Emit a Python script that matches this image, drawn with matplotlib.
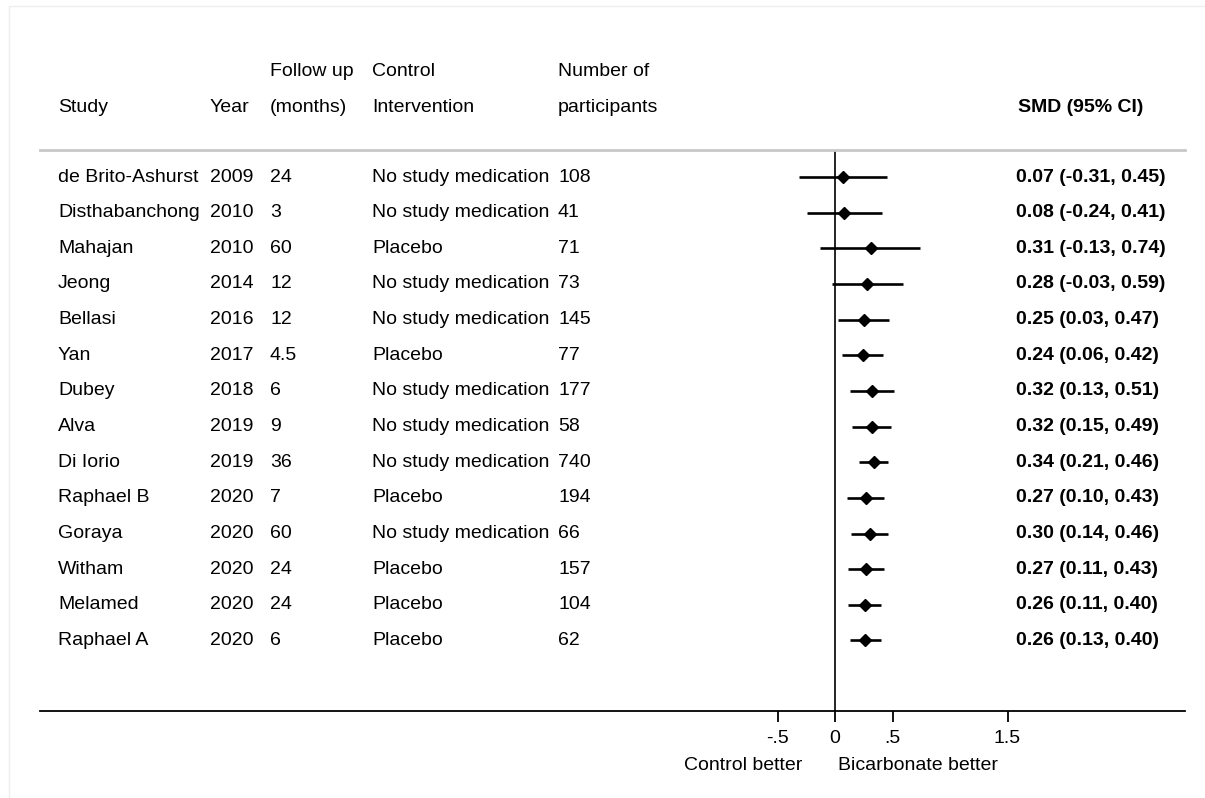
import matplotlib.pyplot as plt
import matplotlib.transforms as mtransforms
from matplotlib.lines import Line2D

plt.rcParams['font.family'] = ['Liberation Sans', 'DejaVu Sans']

studies = ['de Brito-Ashurst', 'Disthabanchong', 'Mahajan', 'Jeong', 'Bellasi', 'Yan',
           'Dubey', 'Alva', 'Di Iorio', 'Raphael B', 'Goraya', 'Witham', 'Melamed',
           'Raphael A']
years = [2009, 2010, 2010, 2014, 2016, 2017, 2018, 2019, 2019, 2020, 2020, 2020, 2020, 2020]
follow_up = ['24', '3', '60', '12', '12', '4.5', '6', '9', '36', '7', '60', '24', '24', '6']
control = ['No study medication', 'No study medication', 'Placebo', 'No study medication',
           'No study medication', 'Placebo', 'No study medication', 'No study medication',
           'No study medication', 'Placebo', 'No study medication', 'Placebo', 'Placebo',
           'Placebo']
n_participants = [108, 41, 71, 73, 145, 77, 177, 58, 740, 194, 66, 157, 104, 62]
smd = [0.07, 0.08, 0.31, 0.28, 0.25, 0.24, 0.32, 0.32, 0.34, 0.27, 0.30, 0.27, 0.26, 0.26]
ci_low = [-0.31, -0.24, -0.13, -0.03, 0.03, 0.06, 0.13, 0.15, 0.21, 0.10, 0.14, 0.11, 0.11, 0.13]
ci_high = [0.45, 0.41, 0.74, 0.59, 0.47, 0.42, 0.51, 0.49, 0.46, 0.43, 0.46, 0.43, 0.40, 0.40]

xticks = [-0.5, 0, 0.5, 1.5]
xticklabels = ['-.5', '0', '.5', '1.5']

W, H = 1205, 798
fig = plt.figure(figsize=(W / 100, H / 100), dpi=100)


def fx(px):
    return px / W


def fy(py):
    return 1 - py / H


# plotting area: axis line from x=40 to 1185 px, separator at 150, axis at 711
top_px, axis_px, row0_px, row_step = 150, 711, 177, 35.65
ax = fig.add_axes([fx(40), fy(axis_px), fx(1185 - 40), (axis_px - top_px) / H])
zero_px, unit_px = 835, 115
ax.set_xlim((40 - zero_px) / unit_px, (1185 - zero_px) / unit_px)
ax.set_ylim((axis_px - row0_px) / row_step, -(row0_px - top_px) / row_step)

for s in ['left', 'right']:
    ax.spines[s].set_visible(False)
ax.spines['top'].set_color('#c8c8c8')
ax.spines['top'].set_linewidth(2)
ax.spines['bottom'].set_linewidth(1.3)
ax.set_yticks([])
ax.set_xticks(xticks)
ax.set_xticklabels(xticklabels, fontsize=14)
ax.tick_params(axis='x', direction='out', length=8, width=1.3, pad=6)

ax.axvline(0, color='black', lw=1.2)

rows = range(len(studies))
ax.hlines(list(rows), ci_low, ci_high, color='black', lw=1.9)
ax.plot(smd, list(rows), 'D', color='black', markersize=6.5)

fs = 14
cols = {'study': 58, 'year': 210, 'follow': 270, 'control': 372, 'n': 558, 'smd': 1016}
row_tr = mtransforms.blended_transform_factory(fig.transFigure, ax.transData)
for i in rows:
    ax.text(fx(cols['study']), i, studies[i], transform=row_tr, fontsize=fs, va='center')
    ax.text(fx(cols['year']), i, str(years[i]), transform=row_tr, fontsize=fs, va='center')
    ax.text(fx(cols['follow']), i, follow_up[i], transform=row_tr, fontsize=fs, va='center')
    ax.text(fx(cols['control']), i, control[i], transform=row_tr, fontsize=fs, va='center')
    ax.text(fx(cols['n']), i, str(n_participants[i]), transform=row_tr, fontsize=fs,
            va='center')
    ax.text(fx(cols['smd']), i, f'{smd[i]:.2f} ({ci_low[i]:.2f}, {ci_high[i]:.2f})',
            transform=row_tr, fontsize=fs, va='center', fontweight='bold')

# column headers, two lines
head1_px, head2_px = 72, 108
for key, txt in [('follow', 'Follow up'), ('control', 'Control'), ('n', 'Number of')]:
    fig.text(fx(cols[key]), fy(head1_px), txt, fontsize=fs, va='center')
for key, txt in [('study', 'Study'), ('year', 'Year'), ('follow', '(months)'),
                 ('control', 'Intervention'), ('n', 'participants')]:
    fig.text(fx(cols[key]), fy(head2_px), txt, fontsize=fs, va='center')
fig.text(fx(cols['smd'] + 2), fy(head2_px), 'SMD (95% CI)', fontsize=fs, va='center',
         fontweight='bold')

# direction labels under the axis
lab_tr = mtransforms.blended_transform_factory(ax.transData, fig.transFigure)
ax.text(-0.28, fy(765), 'Control better', transform=lab_tr, fontsize=fs,
        ha='right', va='center')
ax.text(0.03, fy(765), 'Bicarbonate better', transform=lab_tr, fontsize=fs,
        ha='left', va='center')

# faint edge along the left and top of the figure
fig.add_artist(Line2D([fx(9), fx(9), 1], [0, fy(6), fy(6)], transform=fig.transFigure,
                      color='#efefef', lw=1))

fig.savefig('out.png', dpi=100)
